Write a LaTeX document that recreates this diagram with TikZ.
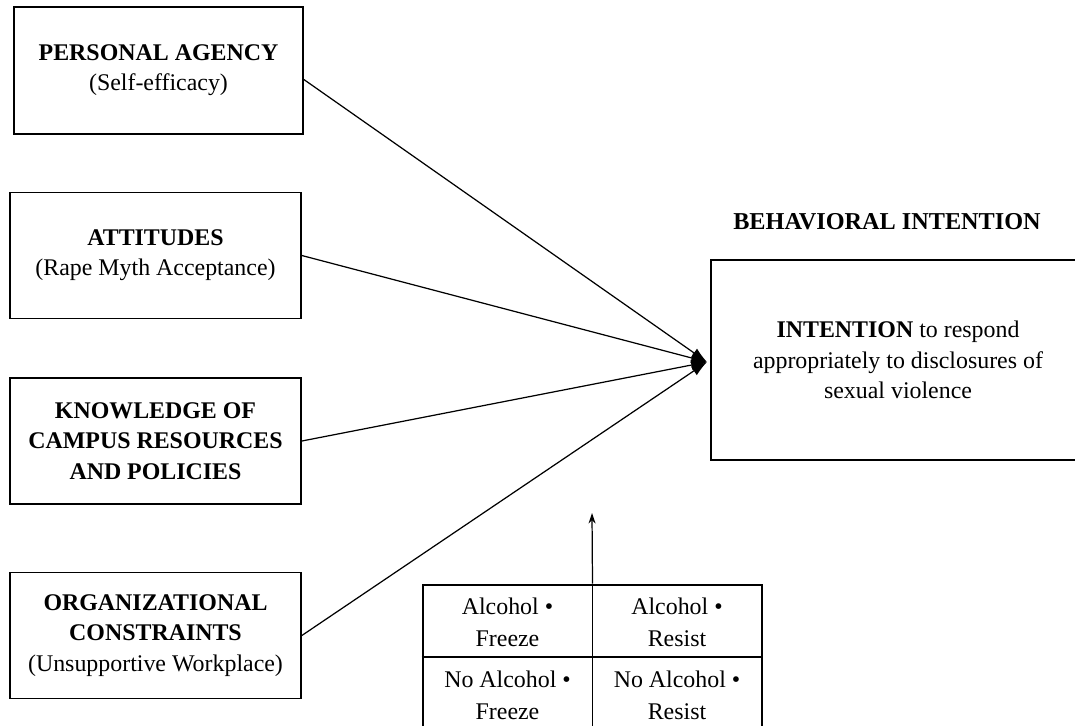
\documentclass[tikz,border=0pt]{standalone}
\usepackage{fontspec}
\setmainfont{Liberation Serif}
\usepackage{tikz}
\usetikzlibrary{arrows.meta,calc,positioning}

\begin{document}
\begin{tikzpicture}[x=0.02cm,y=-0.02cm,
  box/.style={draw,line width=1pt,align=center,minimum width=5.82cm,minimum height=2.52cm,font=\fontsize{13.6}{17.2}\selectfont},
  cell/.style={align=center,font=\fontsize{13.6}{18.2}\selectfont},
  arr/.style={-{Latex[length=9pt,width=6pt]},line width=0.7pt}]
\useasboundingbox (0,0) rectangle (1075,725);
\clip (0,0) rectangle (1075,725);
\node[box,minimum width=5.78cm,minimum height=2.54cm] (agency) at (158.5,70.5) {\textbf{PERSONAL AGENCY}\\(Self-efficacy)};
\node[box] (attitudes) at (155.5,255.5) {\textbf{ATTITUDES}\\(Rape Myth Acceptance)};
\node[box] (knowledge) at (155.5,441) {\textbf{KNOWLEDGE OF}\\\textbf{CAMPUS RESOURCES}\\\textbf{AND POLICIES}};
\node[box] (constraints) at (155.5,635.5) {\textbf{ORGANIZATIONAL}\\\textbf{CONSTRAINTS}\\(Unsupportive Workplace)};
\node[box,minimum width=7.48cm,minimum height=4cm] (intention) at (898,360) {\textbf{INTENTION} to respond\\appropriately to disclosures of\\sexual violence};
\node[font=\fontsize{13.8}{16}\selectfont\bfseries] (behavior) at (887,222) {BEHAVIORAL INTENTION};
% condition table
\node[draw,line width=1.6pt,minimum width=6.78cm,minimum height=2.88cm] (table) at (592.5,657) {};
\draw[line width=0.7pt] (table.north) -- (table.south);
\draw[line width=0.7pt] (table.west) -- (table.east);
\node[cell] (alcfreeze) at (507.5,622) {Alcohol •\\Freeze};
\node[cell] (alcresist) at (677,622) {Alcohol •\\Resist};
\node[cell] (noalcfreeze) at (507.5,695) {No Alcohol •\\Freeze};
\node[cell] (noalcresist) at (677,695) {No Alcohol •\\Resist};
\coordinate (meet) at (707,362);
\coordinate (up) at (592,513);
\draw[arr] (agency.east) ++(0,9) -- (meet);
\draw[arr] (attitudes.east) -- (meet);
\draw[arr] (knowledge.east) -- (meet);
\draw[arr] (constraints.east) -- (meet);
\draw[-{Stealth[length=6pt,width=4pt]},line width=0.7pt] (table.north) -- (up);
\end{tikzpicture}
\end{document}
